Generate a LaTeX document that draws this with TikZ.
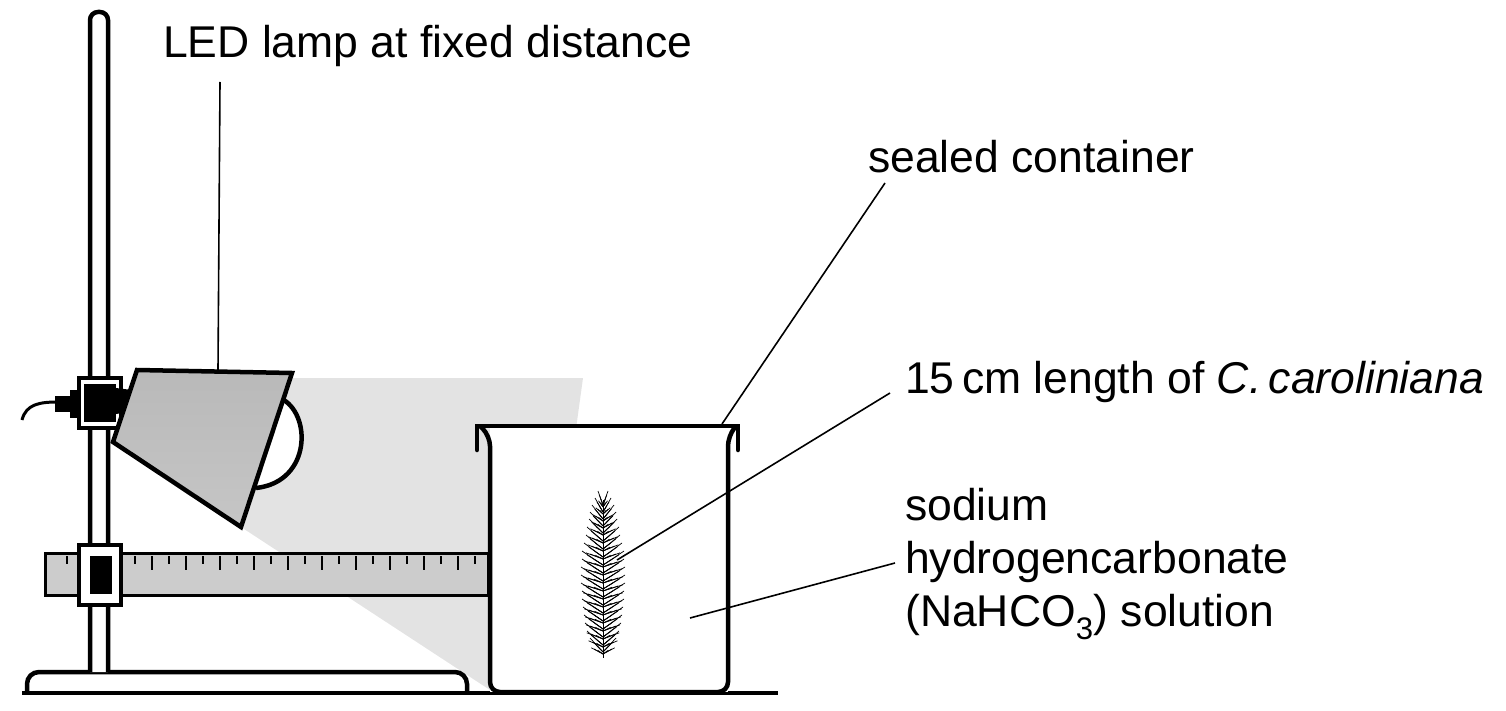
\documentclass[tikz,border=0pt]{standalone}
\usepackage{fontspec}
\setmainfont{Liberation Sans}
\begin{document}
\begin{tikzpicture}[x=1pt,y=-1pt,
  ln/.style={line width=4.5pt,line join=miter},
  lbl/.style={line width=1.6pt},
  txt/.style={font=\fontsize{44.5}{52}\selectfont,inner sep=0pt,anchor=base west}]
\useasboundingbox (0,0) rectangle (1506,711);
% light beam
\fill[gray!22] (241,527) -- (292,378) -- (583,378) -- (540,690) -- (490,690) -- cycle;
% base and ground
\draw[ln,fill=white,rounded corners=12] (27,692) -- (27,672) -- (467,672) -- (467,692);
\draw[ln] (22,693) -- (778,693);
% rod
\draw[ln,fill=white,rounded corners=8] (90,672) -- (90,12) -- (108,12) -- (108,672);
% ruler
\draw[line width=3pt,fill=gray!40] (45,553) rectangle (488,595);
\foreach \i in {0,...,24}{
  \pgfmathsetmacro\xx{67+17*\i}
  \pgfmathsetmacro\hh{mod(\i,2)==0?8:14}
  \draw[line width=2.5pt] (\xx,556) -- (\xx,556+\hh);
}
% ruler clamp
\draw[line width=4pt,fill=white] (79,545) rectangle (121,605);
\fill (90,556) rectangle (112,594);
\draw[line width=2.5pt,white] (84,550) -- (116,550) (84,600) -- (116,600) (84,550) -- (84,572) (116,550)--(116,572) (84,578)--(84,600) (116,578)--(116,600);
% lamp clamp, plug and cable
\draw[line width=3pt] (22,420) .. controls (26,404) and (40,402) .. (58,402);
\fill (55,396) rectangle (70,412);
\fill (70,390) rectangle (82,418);
\draw[line width=4pt,fill=white] (79,378) rectangle (121,428);
\fill (84,384) rectangle (116,422);
\fill (116,388) -- (132,390) -- (128,412) -- (116,414) -- cycle;
% bulb
\draw[ln,fill=white] (280,398) .. controls (312,412) and (312,482) .. (256,488);
% lamp shade
\shade[top color=gray!55,middle color=white,bottom color=gray!45]
  (137,370) -- (292,373) -- (241,527) -- (113,442) -- cycle;
\draw[ln] (137,370) -- (292,373) -- (241,527) -- (113,442) -- cycle;
% beaker
\fill[white] (490,428) rectangle (728,692);
\draw[ln,line cap=round] (477,450) -- (477,426) -- (738,426) -- (738,450);
\draw[ln,rounded corners=10] (480,426) -- (490,436) -- (490,692) -- (728,692) -- (728,436) -- (736,426);
% plant
\draw[line width=1pt] (603,500) -- (603,658);
\foreach \y/\w in {505/5,512/8,519/11,526/13,533/14,541/16,549/17,557/19,565/21,573/21,581/22,589/22,597/22,605/21,613/21,621/20,629/19,637/18,645/16,652/13}{
  \foreach \k/\a in {0.45/6,0.75/10,1/14}{
    \draw[line width=0.7pt] (603,\y) -- (603-\w*\k,\y-\a);
    \draw[line width=0.7pt] (603,\y) -- (603+\w*\k,\y-\a);
    \draw[line width=0.7pt] (603,\y+2) -- (603-\w*\k*0.9,\y-\a*0.3);
    \draw[line width=0.7pt] (603,\y+2) -- (603+\w*\k*0.9,\y-\a*0.3);
  }
}
% labels
\node[txt] (t1) at (163,58) {LED lamp at fixed distance};
\node[txt] (t2) at (868,173) {sealed container};
\node[txt] (t3) at (905,393) {15\,cm length of \textit{C.\,caroliniana}};
\node[txt] (t4) at (905,520) {sodium};
\node[txt] (t5) at (905,573) {hydrogencarbonate};
\node[txt] (t6) at (905,626) {(NaHCO\textsubscript{3}) solution};
\coordinate (c1) at (218,370);
\coordinate (c2) at (722,424);
\coordinate (c3) at (617,560);
\coordinate (c4) at (690,618);
\draw[lbl] (220,82) -- (c1);
\draw[lbl] (885,183) -- (c2);
\draw[lbl] (890,393) -- (c3);
\draw[lbl] (895,563) -- (c4);
\end{tikzpicture}
\end{document}
